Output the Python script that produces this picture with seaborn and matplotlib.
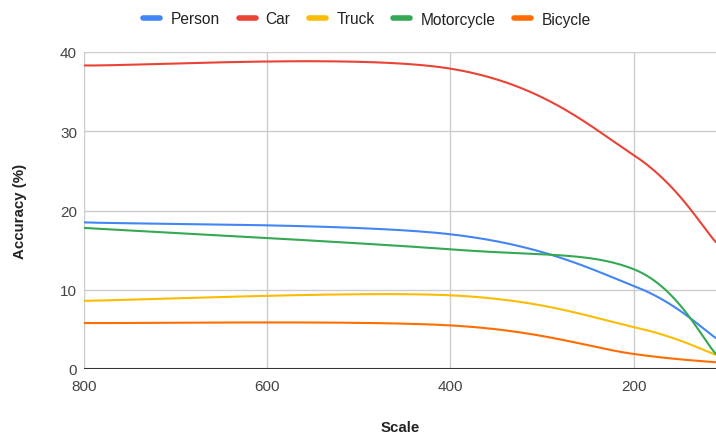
import numpy as np
import pandas as pd
import matplotlib
matplotlib.use("Agg")
import matplotlib.pyplot as plt
from matplotlib.lines import Line2D
import seaborn as sns

# data
scales = [800, 400, 200, 110]
person = [18.5, 17.0, 10.5, 3.9]
car = [38.3, 37.9, 27.0, 16.0]
truck = [8.6, 9.3, 5.3, 1.8]
motorcycle = [17.8, 15.1, 12.6, 1.9]
bicycle = [5.8, 5.5, 1.9, 0.85]

series = ["Person", "Car", "Truck", "Motorcycle", "Bicycle"]
values = [person, car, truck, motorcycle, bicycle]
colors = ["#4285F4", "#EA4335", "#FBBC04", "#34A853", "#FF6D01"]


def smooth(xs, ys, n=60):
    # catmull-rom style bezier through the points (like Google's "function" curve)
    p = np.column_stack([xs, ys]).astype(float)
    p = np.vstack([p[0], p, p[-1]])
    out = []
    t = np.linspace(0, 1, n)[:, None]
    for i in range(1, len(p) - 2):
        p0, p1, p2, p3 = p[i - 1], p[i], p[i + 1], p[i + 2]
        c1 = p1 + (p2 - p0) / 6
        c2 = p2 - (p3 - p1) / 6
        seg = ((1 - t) ** 3) * p1 + 3 * ((1 - t) ** 2) * t * c1 + 3 * (1 - t) * t ** 2 * c2 + t ** 3 * p2
        out.append(seg if i == 1 else seg[1:])
    out = np.vstack(out)
    return out[:, 0], out[:, 1]


frames = []
for name, v in zip(series, values):
    sx, sy = smooth(scales, v)
    frames.append(pd.DataFrame({"Scale": sx, "Accuracy": sy, "Series": name}))
df = pd.concat(frames, ignore_index=True)

sns.set_style("white")
plt.rcParams["font.family"] = ["Liberation Sans", "DejaVu Sans"]

fig = plt.figure(figsize=(7.16, 4.35), dpi=100)
ax = fig.add_axes([84 / 716, 65 / 435, 632 / 716, 317 / 435])

for name, c in zip(series, colors):
    sub = df[df["Series"] == name]
    sns.lineplot(data=sub, x="Scale", y="Accuracy", sort=False, estimator=None,
                 color=c, lw=1.5, ax=ax, legend=False)

ax.set_xlim(800, 110)
ax.set_ylim(0, 40)
ax.set_xticks([800, 600, 400, 200])
ax.set_yticks([0, 10, 20, 30, 40])
ax.grid(True, color="#cccccc", lw=1)
ax.set_axisbelow(True)
for s in ax.spines.values():
    s.set_visible(False)
ax.axhline(0, color="#333333", lw=1.5, zorder=1)
ax.tick_params(length=0, labelsize=11, labelcolor="#444444")
ax.tick_params(axis="x", pad=7)
ax.tick_params(axis="y", pad=5)

ax.set_xlabel("Scale", fontsize=10.8, fontweight="bold", color="#222222", labelpad=20)
ax.set_ylabel("Accuracy (%)", fontsize=10.8, fontweight="bold", color="#222222", labelpad=24)

handles = [Line2D([], [], color=c, lw=4) for c in colors]
fig.legend(handles, series, loc="center", bbox_to_anchor=(367 / 716, 1 - 20 / 435),
           ncol=5, frameon=False, fontsize=11.2, handlelength=1.1, handletextpad=0.65,
           columnspacing=1.2, labelcolor="#222222")

fig.savefig("out.png", dpi=100)
